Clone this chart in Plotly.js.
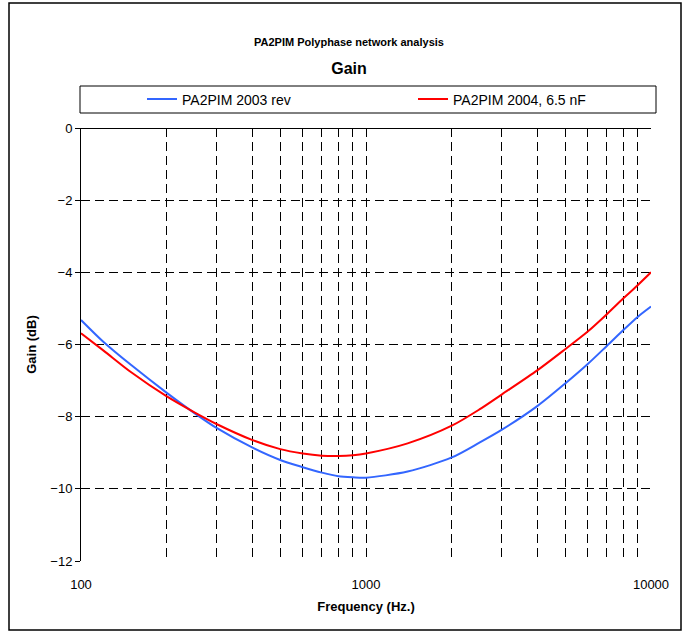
<!DOCTYPE html>
<html>
<head>
<meta charset="utf-8">
<script src="https://cdn.plot.ly/plotly-3.0.1.min.js"></script>
<style>html,body{margin:0;padding:0;background:#fff;}#chart{width:685px;height:632px;}</style>
</head>
<body>
<div id="chart"></div>
<script>
// Frequencies (Hz)
const freq = [100, 120, 150, 200, 250, 300, 400, 500, 600, 700, 800, 900, 1000, 1400, 2000, 2500, 3000, 4000, 5000, 6000, 7000, 8000, 9000, 10000];
// Gain (dB) series
const gain2003 = [-5.32, -5.93, -6.57, -7.34, -7.90, -8.32, -8.86, -9.20, -9.40, -9.55, -9.65, -9.68, -9.69, -9.52, -9.13, -8.72, -8.36, -7.70, -7.08, -6.54, -6.04, -5.60, -5.23, -4.95];
const gain2004 = [-5.69, -6.17, -6.77, -7.44, -7.88, -8.21, -8.65, -8.90, -9.02, -9.08, -9.09, -9.07, -9.02, -8.74, -8.25, -7.80, -7.38, -6.71, -6.13, -5.64, -5.16, -4.72, -4.35, -4.00];
const seriesNames = ["PA2PIM 2003 rev", "PA2PIM 2004, 6.5 nF"];
// Axis ticks
const xTickVals = [100,200,300,400,500,600,700,800,900,1000,2000,3000,4000,5000,6000,7000,8000,9000,10000];
const xTickText = ["100","","","","","","","","","1000","","","","","","","","","10000"];
const yTickVals = [0,-2,-4,-6,-8,-10,-12];

const font = "Liberation Sans, Arial, sans-serif";

const traces = [
  {x: freq, y: gain2003, name: seriesNames[0], type: "scatter", mode: "lines", legend: "legend",
   line: {color: "#3366FF", width: 2, shape: "spline", smoothing: 0.8}},
  {x: freq, y: gain2004, name: seriesNames[1], type: "scatter", mode: "lines", legend: "legend2",
   line: {color: "#FF0000", width: 2, shape: "spline", smoothing: 0.8}}
];

const legendCommon = {orientation: "h", xanchor: "left", yanchor: "middle", y: (561-99.5)/433,
  bgcolor: "rgba(0,0,0,0)", borderwidth: 0, font: {family: font, size: 14, color: "#000"}, itemwidth: 30};

const layout = {
  width: 685, height: 632,
  margin: {l: 81, r: 34, t: 128, b: 71},
  paper_bgcolor: "#fff", plot_bgcolor: "#fff",
  font: {family: font, color: "#000", size: 13},
  title: {text: "<b>Gain</b>", font: {family: font, size: 16, color: "#000"},
          x: 349/685, xref: "container", xanchor: "center", y: 1 - 68/632, yref: "container", yanchor: "middle"},
  annotations: [{text: "<b>PA2PIM Polyphase network analysis</b>", xref: "paper", yref: "paper",
                 x: (349-81)/570, y: (561-42)/433, xanchor: "center", yanchor: "middle", showarrow: false,
                 font: {family: font, size: 11, color: "#000"}}],
  showlegend: true,
  legend: Object.assign({}, legendCommon, {x: (142-81)/570}),
  legend2: Object.assign({}, legendCommon, {x: (413-81)/570}),
  xaxis: {type: "log", range: [2, 4], tickvals: xTickVals, ticktext: xTickText,
          showgrid: true, gridcolor: "#000", griddash: "9px,5px", gridwidth: 1,
          showline: false, zeroline: false, ticks: "", ticklabelstandoff: 14,
          tickfont: {family: font, size: 13, color: "#000"},
          title: {text: "<b>Frequency (Hz.)</b>", font: {family: font, size: 13, color: "#000"}, standoff: 10}},
  yaxis: {range: [-12, 0], tickvals: yTickVals, showgrid: true, gridcolor: "#000", griddash: "9px,5px", gridwidth: 1,
          showline: true, linecolor: "#000", linewidth: 1, zeroline: true, zerolinecolor: "#000", zerolinewidth: 1,
          ticks: "outside", ticklen: 5, tickcolor: "#000", tickwidth: 1,
          tickfont: {family: font, size: 13, color: "#000"},
          title: {text: "<b>Gain (dB)</b>", font: {family: font, size: 13, color: "#000"}, standoff: 10}},
  shapes: [
    {type: "rect", xref: "paper", yref: "paper", x0: (9-81)/570, x1: (681-81)/570, y0: (561-630)/433, y1: (561-3)/433,
     line: {color: "#000", width: 1.5}, fillcolor: "rgba(0,0,0,0)", layer: "below"},
    {type: "rect", xref: "paper", yref: "paper", x0: (80-81)/570, x1: (656-81)/570, y0: (561-113)/433, y1: (561-86)/433,
     line: {color: "#000", width: 1}, fillcolor: "rgba(0,0,0,0)", layer: "below"}
  ]
};

Plotly.newPlot("chart", traces, layout, {displayModeBar: false, staticPlot: true});
</script>
</body>
</html>
